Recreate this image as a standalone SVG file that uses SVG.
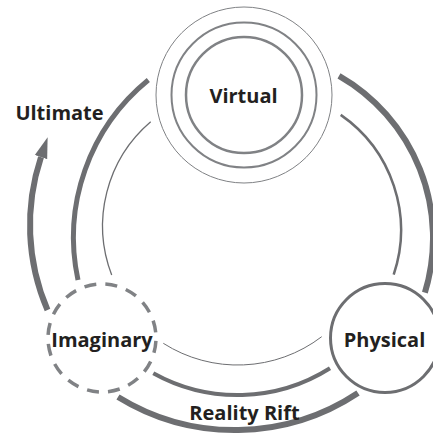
<svg xmlns="http://www.w3.org/2000/svg" width="433" height="436" viewBox="0 0 433 436">
<style>
.arc{fill:none;stroke:#6d6e71;stroke-linecap:butt}
.node{fill:#fff;stroke:#6d6e71}
.lbl{font-family:"Open Sans","Liberation Sans",sans-serif;font-weight:700;font-size:20px;fill:#231f20;text-anchor:middle}
</style>
<defs>
<marker id="ah" markerUnits="userSpaceOnUse" markerWidth="21" markerHeight="14" refX="0" refY="7" orient="auto">
<path d="M0,0.5 L21,7 L0,13.5 z" fill="#6d6e71"/>
</marker>
</defs>
<rect width="433" height="436" fill="#fff"/>
<g id="connectors">
<path class="arc" d="M47.5,310 A215,215 0 0 1 41,157.1" stroke-width="6" marker-end="url(#ah)"/>
<path class="arc" d="M78,280 A203,203 0 0 1 148.3,80" stroke-width="5"/>
<path class="arc" d="M111.7,275 A137,137 0 0 1 150.7,121.7" stroke-width="1.3"/>
<path class="arc" d="M339,75.8 A187,187 0 0 1 424.9,292.6" stroke-width="6"/>
<path class="arc" d="M340.7,114.9 A140,140 0 0 1 393.7,274.6" stroke-width="2.5"/>
<path class="arc" d="M163.3,343.3 A138.5,138.5 0 0 0 321.7,336.7" stroke-width="1" stroke="#a7a9ac"/>
<path class="arc" d="M153.3,373.3 A173.4,173.4 0 0 0 330,368.3" stroke-width="4"/>
<path class="arc" d="M118,397 A222.9,222.9 0 0 0 358,393" stroke-width="6"/>
</g>
<g id="virtual">
<circle cx="244" cy="95" r="88" fill="#fff" stroke="#808285" stroke-width="1"/>
<circle cx="244" cy="95" r="72.5" fill="none" stroke="#808285" stroke-width="2"/>
<circle cx="244" cy="95" r="58" fill="none" stroke="#808285" stroke-width="2.5"/>
<text class="lbl" x="243.5" y="102.5">Virtual</text>
</g>
<g id="physical">
<circle cx="385" cy="338" r="54.5" class="node" stroke-width="3" stroke="#808285"/>
<text class="lbl" x="384.5" y="346.5">Physical</text>
</g>
<g id="imaginary">
<circle cx="102" cy="338" r="54" fill="none" stroke="#808285" stroke-width="3.5" stroke-dasharray="12 9.206" stroke-dashoffset="-3"/>
<text class="lbl" x="102" y="346.5">Imaginary</text>
</g>
<g id="labels">
<text class="lbl" x="59.5" y="119.5">Ultimate</text>
<text class="lbl" x="244.5" y="420">Reality Rift</text>
</g>
</svg>
